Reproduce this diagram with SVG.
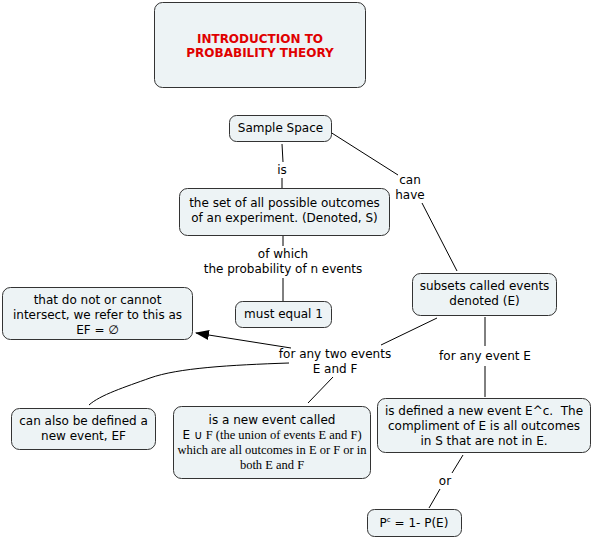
<svg xmlns="http://www.w3.org/2000/svg" width="594" height="538" viewBox="0 0 594 538">
<style>
.n{fill:#edf3f5;stroke:#333;stroke-width:1}
.t{font-family:"DejaVu Sans","Verdana",sans-serif;font-size:12px;fill:#000;text-anchor:middle}
.s{font-family:"Liberation Serif","Times New Roman",serif;font-size:12.5px;fill:#000;text-anchor:middle}
.h{font-family:"DejaVu Sans","Verdana",sans-serif;font-size:12px;font-weight:bold;fill:#e00000;text-anchor:middle}
.c{fill:none;stroke:#000;stroke-width:1}
</style>
<defs>
<marker id="ar" markerWidth="14" markerHeight="10" refX="13" refY="5" orient="auto" markerUnits="userSpaceOnUse">
<path d="M0,0 L14,5 L0,10 Z" fill="#000"/>
</marker>
</defs>
<rect width="594" height="538" fill="#fff"/>
<g id="connectors">
<line class="c" x1="282" y1="144" x2="283" y2="162"/>
<line class="c" x1="282" y1="178" x2="282" y2="188"/>
<line class="c" x1="316" y1="123" x2="398" y2="175"/>
<line class="c" x1="422" y1="203" x2="457" y2="271"/>
<line class="c" x1="283" y1="236" x2="283" y2="246"/>
<line class="c" x1="283" y1="278" x2="283" y2="301"/>
<line class="c" x1="437" y1="318" x2="381" y2="345"/>
<line class="c" x1="291" y1="348" x2="196" y2="333" marker-end="url(#ar)"/>
<path class="c" d="M289,363 C230,365 178,368 150,378 C125,387 100,395 89,405"/>
<line class="c" x1="333" y1="377" x2="308" y2="403"/>
<line class="c" x1="485" y1="317" x2="485" y2="346"/>
<line class="c" x1="485" y1="366" x2="485" y2="397"/>
<line class="c" x1="463" y1="455" x2="452" y2="473"/>
<line class="c" x1="440" y1="489" x2="429" y2="508"/>
</g>
<g id="title">
<rect class="n" x="154.5" y="2.5" width="211" height="85" rx="8"/>
<text class="h" x="260" y="43">INTRODUCTION TO</text>
<text class="h" x="260" y="57">PROBABILITY THEORY</text>
</g>
<g id="sample-space">
<rect class="n" x="229.5" y="115.5" width="102" height="26" rx="7"/>
<text class="t" x="280.5" y="132">Sample Space</text>
</g>
<g id="lbl-is"><text class="t" x="282" y="174">is</text></g>
<g id="lbl-can-have">
<text class="t" x="410" y="184">can</text>
<text class="t" x="410" y="199">have</text>
</g>
<g id="set-of-outcomes">
<rect class="n" x="179.5" y="188.5" width="210" height="47" rx="8"/>
<text class="t" x="284.5" y="207">the set of all possible outcomes</text>
<text class="t" x="284.5" y="222">of an experiment. (Denoted, S)</text>
</g>
<g id="lbl-of-which">
<text class="t" x="283" y="258">of which</text>
<text class="t" x="283" y="273">the probability of n events</text>
</g>
<g id="must-equal">
<rect class="n" x="235.5" y="301.5" width="96" height="26" rx="7"/>
<text class="t" x="283.5" y="318">must equal 1</text>
</g>
<g id="subsets">
<rect class="n" x="412.5" y="273.5" width="144" height="42" rx="8"/>
<text class="t" x="484.5" y="290">subsets called events</text>
<text class="t" x="484.5" y="305">denoted (E)</text>
</g>
<g id="disjoint">
<rect class="n" x="2.5" y="287.5" width="190" height="52" rx="8"/>
<text class="t" x="97.5" y="304">that do not or cannot</text>
<text class="t" x="97.5" y="319">intersect, we refer to this as</text>
<text class="t" x="97.5" y="334">EF = ∅</text>
</g>
<g id="lbl-two-events">
<text class="t" x="335" y="358">for any two events</text>
<text class="t" x="335" y="373">E and F</text>
</g>
<g id="lbl-any-event">
<text class="t" x="485" y="360">for any event E</text>
</g>
<g id="intersection">
<rect class="n" x="11.5" y="408.5" width="144" height="41" rx="8"/>
<text class="t" x="83.5" y="425">can also be defined a</text>
<text class="t" x="83.5" y="440">new event, EF</text>
</g>
<g id="union">
<rect class="n" x="173.5" y="406.5" width="197" height="72" rx="8"/>
<text class="t" x="272" y="424">is a new event called</text>
<text class="s" x="272" y="439"><tspan style="font-family:'DejaVu Sans',sans-serif;font-size:12px">E ∪</tspan> F (the union of events E and F)</text>
<text class="s" x="272" y="454">which are all outcomes in E or F or in</text>
<text class="s" x="272" y="469">both E and F</text>
</g>
<g id="complement">
<rect class="n" x="377.5" y="398.5" width="213" height="54" rx="8"/>
<text class="t" x="484" y="415">is defined a new event E^c.&#160; The</text>
<text class="t" x="484" y="430">compliment of E is all outcomes</text>
<text class="t" x="484" y="445">in S that are not in E.</text>
</g>
<g id="lbl-or"><text class="t" x="445" y="485">or</text></g>
<g id="pc">
<rect class="n" x="367.5" y="509.5" width="94" height="27" rx="7"/>
<text class="t" x="414" y="527">P<tspan style="font-size:7px" dy="-5">c</tspan><tspan dy="5"> = 1- P(E)</tspan></text>
</g>
</svg>
